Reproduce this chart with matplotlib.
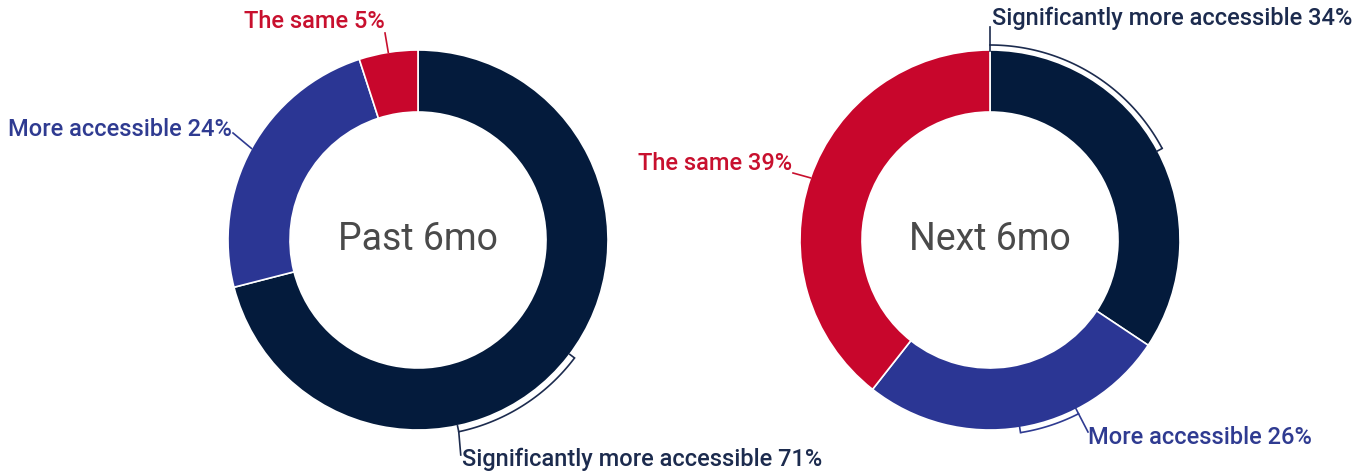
import numpy as np
import matplotlib
matplotlib.use('Agg')
import matplotlib.pyplot as plt

plt.rcParams['font.family'] = ['Roboto', 'DejaVu Sans']

# survey answers, slices in drawing order (clockwise from 12 o'clock)
categories = ['Significantly more accessible', 'More accessible', 'The same']
past_values = [71, 24, 5]
next_values = [34, 26, 39]
titles = ['Past 6mo', 'Next 6mo']

colors = ['#041b3c', '#2b3694', '#c8062c']
label_colors = ['#1c2b4e', '#2f3b91', '#c8102e']

W, H = 1363, 472
R = 190
RING = 62

fig = plt.figure(figsize=(W / 100, H / 100), dpi=100)
ax = fig.add_axes([0, 0, 1, 1])


def pt(cx, cy, r, ang):
    a = np.deg2rad(ang)
    return cx + r * np.cos(a), cy + r * np.sin(a)


def bracket(cx, cy, a1, a2, color, r=196, tick=6):
    t = np.linspace(a1, a2, 60)
    xs, ys = pt(cx, cy, r, t)
    ax.plot(xs, ys, color=color, lw=1.2, solid_capstyle='butt')
    for a in (a1, a2):
        x0, y0 = pt(cx, cy, r, a)
        x1, y1 = pt(cx, cy, r - tick, a)
        ax.plot([x0, x1], [y0, y1], color=color, lw=1.2)
    return pt(cx, cy, r, a1), pt(cx, cy, r, a2)


def donut(cx, cy, values, title):
    wedges, _ = ax.pie(values, colors=colors, startangle=90, counterclock=False,
                       radius=R, center=(cx, cy),
                       wedgeprops=dict(width=RING, edgecolor='white', linewidth=1.2))
    ax.text(cx, cy, title, ha='center', va='center', fontsize=27, color='#4a4a4a')
    return wedges


def leader(cx, cy, wedge, tx, ty, color):
    mid = (wedge.theta1 + wedge.theta2) / 2
    x0, y0 = pt(cx, cy, R, mid)
    ax.plot([x0, tx], [y0, ty], color=color, lw=1.2)


def lbl(x, y, text, color, ha):
    ax.text(x, y, text, ha=ha, va='center', fontsize=17, color=color,
            fontweight='medium')


# left donut
cx, cy = 418, H - 240
w = donut(cx, cy, past_values, titles[0])
(ax1, ay1), (ax2, ay2) = bracket(cx, cy, -37, -78, label_colors[0])
ax.plot([ax2, ax2 + 2], [ay2, H - 455], color=label_colors[0], lw=1.2)
lbl(462, H - 459, f'{categories[0]} {past_values[0]}%', label_colors[0], 'left')
leader(cx, cy, w[1], 233, H - 133, label_colors[1])
lbl(232, H - 130, f'{categories[1]} {past_values[1]}%', label_colors[1], 'right')
leader(cx, cy, w[2], 385, H - 33, label_colors[2])
lbl(385, H - 22, f'{categories[2]} {past_values[2]}%', label_colors[2], 'right')

# right donut
cx, cy = 990, H - 240
w = donut(cx, cy, next_values, titles[1])
(bx1, by1), _ = bracket(cx, cy, 90, 28, label_colors[0], r=195)
ax.plot([bx1, bx1], [by1, H - 27], color=label_colors[0], lw=1.2)
lbl(992, H - 18, f'{categories[0]} {next_values[0]}%', label_colors[0], 'left')
_, (bx2, by2) = bracket(cx, cy, -81, -63, label_colors[1], r=195)
ax.plot([bx2, 1088], [by2, H - 432], color=label_colors[1], lw=1.2)
lbl(1088, H - 438, f'{categories[1]} {next_values[1]}%', label_colors[1], 'left')
leader(cx, cy, w[2], 793, H - 173, label_colors[2])
lbl(792, H - 163, f'{categories[2]} {next_values[2]}%', label_colors[2], 'right')

ax.set_xlim(0, W)
ax.set_ylim(0, H)
ax.set_aspect('equal')
ax.axis('off')

fig.savefig('out.png', dpi=100, facecolor='white')
